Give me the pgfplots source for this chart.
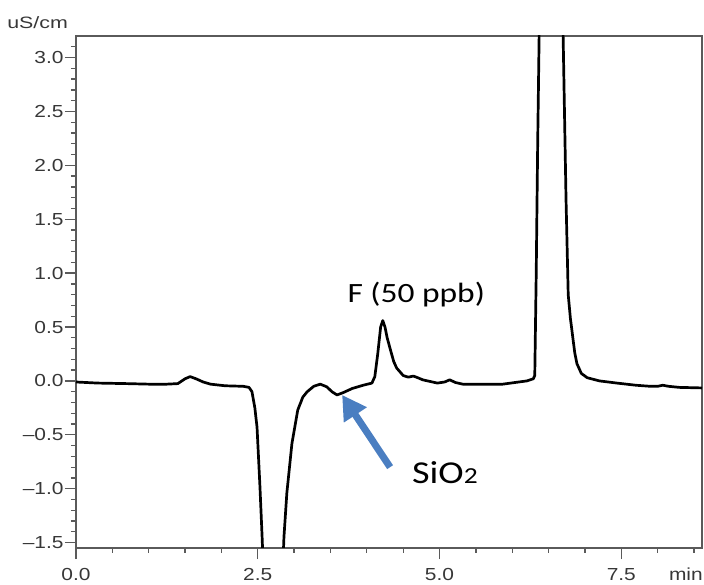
\documentclass[border=0pt]{standalone}
\usepackage{fontspec}
\setmainfont{Liberation Sans}
\newfontfamily\calibri{Carlito}
\usepackage{pgfplots}
\usepackage{pgfplotstable}
\pgfplotsset{compat=1.18}
\usetikzlibrary{arrows.meta}
\definecolor{framegray}{RGB}{90,90,90}
\definecolor{labelgray}{RGB}{55,55,55}
\definecolor{arrowblue}{RGB}{74,126,193}

% conductivity trace (min, uS/cm)
\pgfplotstableread{
t sig
0.00 -0.01
0.30 -0.02
0.70 -0.025
1.00 -0.03
1.25 -0.03
1.40 -0.025
1.50 0.02
1.57 0.04
1.65 0.02
1.75 -0.01
1.85 -0.03
2.05 -0.045
2.30 -0.05
2.38 -0.06
2.42 -0.10
2.46 -0.25
2.49 -0.43
2.53 -0.98
2.56 -1.45
2.58 -1.8
2.62 -2.5
2.80 -2.5
2.84 -1.8
2.86 -1.45
2.90 -1.04
2.97 -0.58
3.05 -0.27
3.12 -0.15
3.18 -0.10
3.27 -0.05
3.36 -0.03
3.45 -0.055
3.52 -0.10
3.59 -0.13
3.67 -0.11
3.80 -0.07
3.95 -0.04
4.07 -0.02
4.11 0.04
4.15 0.25
4.19 0.50
4.22 0.56
4.25 0.50
4.28 0.40
4.32 0.30
4.37 0.18
4.41 0.12
4.50 0.05
4.57 0.035
4.64 0.045
4.70 0.03
4.77 0.01
4.97 -0.02
5.07 -0.01
5.14 0.01
5.22 -0.015
5.32 -0.03
5.87 -0.03
6.20 0.00
6.29 0.02
6.31 0.05
6.33 1.0
6.35 2.2
6.37 3.2
6.39 4.5
6.45 6.0
6.62 6.0
6.68 4.5
6.70 3.2
6.74 1.68
6.77 0.80
6.80 0.58
6.83 0.42
6.86 0.26
6.89 0.16
6.95 0.07
7.03 0.03
7.20 0.00
7.44 -0.02
7.70 -0.04
7.90 -0.05
8.00 -0.05
8.07 -0.04
8.15 -0.05
8.30 -0.06
8.61 -0.065
}\trace

\begin{document}
\begin{tikzpicture}
\begin{axis}[
  at={(0,0)}, anchor=south west,
  scale only axis, width=626bp, height=512bp,
  xmin=0, xmax=8.61, ymin=-1.55, ymax=3.2,
  axis line style={framegray, line width=1.3bp},
  tick pos=left, tick align=outside,
  xtick={0,2.5,5,7.5}, xticklabels={0.0,2.5,5.0,7.5},
  ytick={-1.5,-1,-0.5,0,0.5,1,1.5,2,2.5,3},
  yticklabels={\textendash1.5,\textendash1.0,\textendash0.5,0.0,0.5,1.0,1.5,2.0,2.5,3.0},
  minor xtick={0.5,1,1.5,2,3,3.5,4,4.5,5.5,6,6.5,7,8,8.5},
  minor ytick={-1.4,-1.3,-1.2,-1.1,-0.9,-0.8,-0.7,-0.6,-0.4,-0.3,-0.2,-0.1,
    0.1,0.2,0.3,0.4,0.6,0.7,0.8,0.9,1.1,1.2,1.3,1.4,1.6,1.7,1.8,1.9,
    2.1,2.2,2.3,2.4,2.6,2.7,2.8,2.9,3.1},
  major tick length=11bp, minor tick length=5bp,
  every tick/.style={framegray, line width=1.3bp},
  ticklabel style={font=\fontsize{17.5}{17.5}\selectfont, text=labelgray, xscale=1.2, inner sep=1bp},
  xticklabel style={yshift=-8bp},
]
\addplot[black, line width=2.7bp, line join=round] table[x=t, y=sig] {\trace};
\node[font=\calibri\fontsize{28}{28}\selectfont, xscale=1.2] at (axis cs:4.68,0.80) {F (50 ppb)};
\node[anchor=west, inner sep=0pt, font=\calibri\fontsize{32}{32}\selectfont, xscale=1.2] at (axis cs:4.62,-0.855) {SiO{\fontsize{23}{23}\selectfont 2}};
\draw[arrowblue, line width=7bp, -{Triangle[length=24bp, width=26bp]}] (axis cs:4.32,-0.80) -- (axis cs:3.66,-0.13);
\end{axis}
\node[anchor=west, inner sep=0pt, font=\fontsize{16.5}{16.5}\selectfont, text=labelgray, xscale=1.3] at (-69bp,525bp) {uS/cm};
\node[anchor=base east, inner sep=0pt, font=\fontsize{17.5}{17.5}\selectfont, text=labelgray, xscale=1.2] at (627bp,-32bp) {min};
\pgfresetboundingbox
\path[use as bounding box] (-76bp,-37bp) rectangle (628bp,548bp);
\end{tikzpicture}
\end{document}
